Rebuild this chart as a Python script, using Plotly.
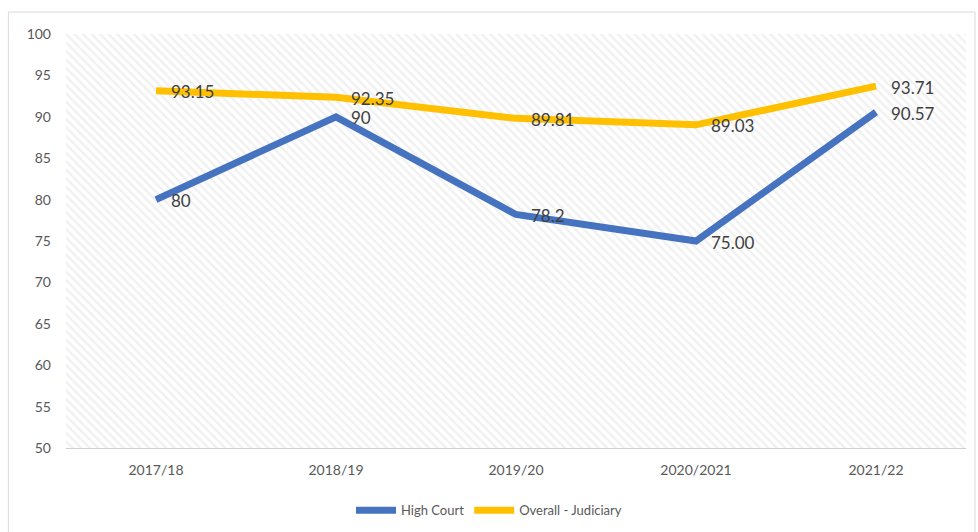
import plotly.graph_objects as go

# Performance index by financial year
years = ["2017/18", "2018/19", "2019/20", "2020/2021", "2021/22"]
high_court = [80, 90, 78.2, 75.00, 90.57]
high_court_labels = ["80", "90", "78.2", "75.00", "90.57"]
overall = [93.15, 92.35, 89.81, 89.03, 93.71]
overall_labels = ["93.15", "92.35", "89.81", "89.03", "93.71"]

y_ticks = list(range(50, 101, 5))
x_pos = list(range(len(years)))

BLUE = "#4673c0"
GOLD = "#ffc000"
TEXT = "#404040"
AXIS_TEXT = "#595959"
GRID = "#dedede"
FONT = "Lato, sans-serif"

fig = go.Figure()

# Hatched plot-area background
fig.add_trace(go.Scatter(
    x=[-0.5, 4.5, 4.5, -0.5, -0.5],
    y=[50, 50, 100, 100, 50],
    mode="lines",
    line=dict(width=0),
    fill="toself",
    fillcolor="rgba(255,255,255,0)",
    fillpattern=dict(shape="\\", fgcolor="#e2e2e2", bgcolor="#ffffff",
                     size=6, solidity=0.4),
    hoverinfo="skip",
    showlegend=False,
))

fig.add_trace(go.Scatter(
    x=x_pos, y=high_court, name="High Court",
    mode="lines", line=dict(color=BLUE, width=7),
    hoverinfo="x+y",
))

fig.add_trace(go.Scatter(
    x=x_pos, y=overall, name="Overall - Judiciary",
    mode="lines", line=dict(color=GOLD, width=7),
    hoverinfo="x+y",
))

# Data labels placed just to the right of each point
for series, labels in ((high_court, high_court_labels), (overall, overall_labels)):
    for xi, yi, lab in zip(x_pos, series, labels):
        fig.add_annotation(
            x=xi, y=yi, text=lab, showarrow=False,
            xanchor="left", yanchor="middle", xshift=13, yshift=-1,
            font=dict(family=FONT, size=17, color=TEXT),
        )

# Outer chart frame
fig.add_shape(type="rect", xref="paper", yref="paper",
              x0=-0.064, x1=1.01, y0=-0.205, y1=1.053,
              line=dict(color="#d9d9d9", width=1), layer="below")

fig.update_layout(
    width=978, height=532,
    margin=dict(l=66, r=12, t=34, b=84),
    paper_bgcolor="white",
    plot_bgcolor="white",
    font=dict(family=FONT, color=AXIS_TEXT),
    legend=dict(orientation="h", x=0.47, xanchor="center",
                yref="container", y=0.041, yanchor="middle",
                font=dict(size=13, color=AXIS_TEXT),
                itemwidth=40, tracegroupgap=0),
    xaxis=dict(
        range=[-0.5, 4.5],
        tickvals=x_pos, ticktext=years,
        tickfont=dict(size=14, color=AXIS_TEXT),
        showgrid=True, gridcolor=GRID, gridwidth=1,
        minor=dict(tick0=-0.5, dtick=1, showgrid=True, gridcolor="#ececec"),
        showline=True, linecolor="#d0d0d0", linewidth=1,
        zeroline=False, ticks="", fixedrange=True,
        ticklabelstandoff=9,
    ),
    yaxis=dict(
        range=[50, 100],
        tickvals=y_ticks,
        tickfont=dict(size=14, color=AXIS_TEXT),
        showgrid=True, gridcolor=GRID, gridwidth=1,
        showline=False, zeroline=False, ticks="",
        ticklabelstandoff=14,
    ),
)

fig.write_html("out.html")
